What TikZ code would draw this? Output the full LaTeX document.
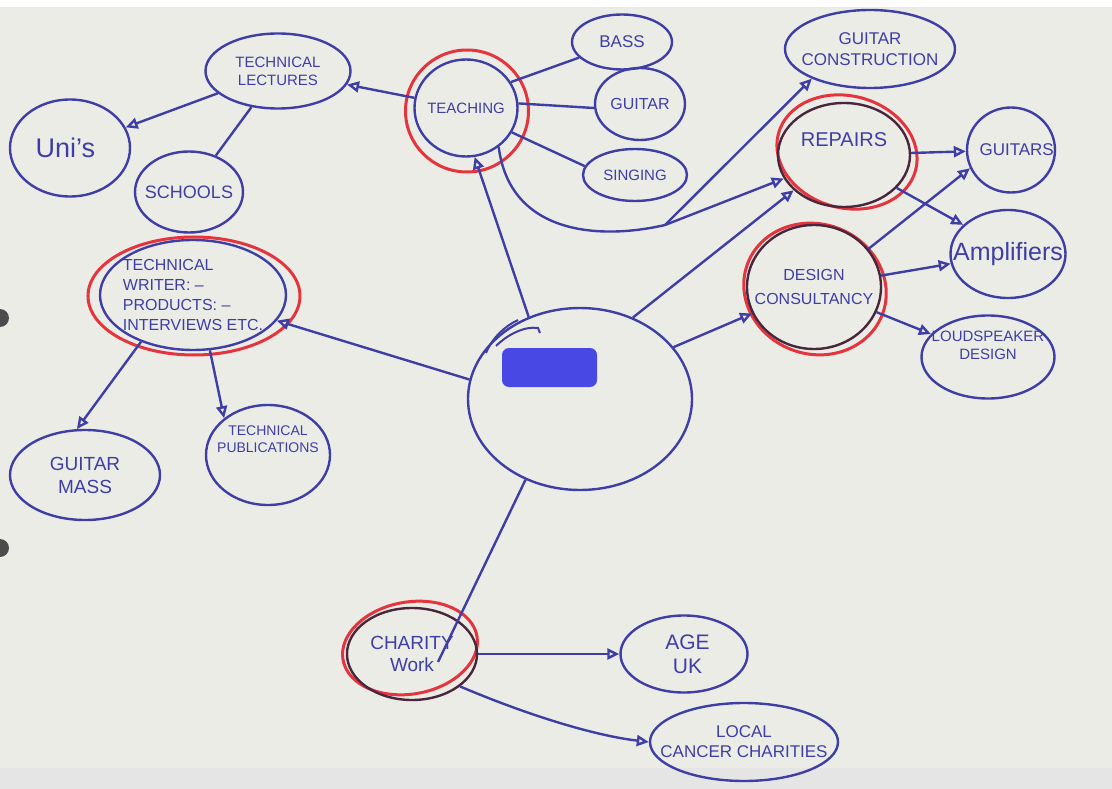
\documentclass[tikz,border=0pt]{standalone}
\usepackage{fontspec}
\setmainfont{Liberation Sans}
\usetikzlibrary{shapes.geometric,arrows.meta,calc}
\definecolor{ink}{RGB}{62,62,165}
\definecolor{redink}{RGB}{228,52,62}
\definecolor{darkink}{RGB}{72,38,60}
\definecolor{paper}{RGB}{236,236,231}
\definecolor{blob}{RGB}{72,72,228}
\begin{document}
\begin{tikzpicture}[x=1pt,y=-1pt,
  bub/.style={ellipse, draw=ink, line width=2.4pt, inner sep=-45pt, text=ink, align=center},
  ringp/.style={draw=redink, line width=3pt},
  con/.style={draw=ink, line width=2.4pt},
  arr/.style={con, -{Triangle[open, length=12pt, width=11pt]}}]
\useasboundingbox (0,0) rectangle (1112,789);
\fill[paper] (0,0) rectangle (1112,789);
\fill[white] (0,0) rectangle (1112,7);
\fill[black!10] (0,768) rectangle (1112,789);
\fill[gray!60!black] (0,318) circle (9);
\fill[gray!60!black] (0,548) circle (9);

% ---------- red rings ----------
\draw[ringp] (467,111) ellipse [x radius=61.5, y radius=61];
\draw[ringp, rotate around={-15:(847,152)}] (847,152) ellipse [x radius=71, y radius=56];
\draw[ringp, rotate around={-20:(815,289)}] (815,289) ellipse [x radius=72, y radius=65];
\draw[ringp] (194,296) ellipse [x radius=106, y radius=59];
\draw[ringp, rotate around={10:(410,648)}] (410,648) ellipse [x radius=68, y radius=46];

% ---------- nodes ----------
\node[bub, minimum width=145pt, minimum height=75pt, font=\fontsize{15}{18}\selectfont] (tl) at (278,71) {TECHNICAL\\LECTURES};
\node[bub, minimum width=120pt, minimum height=97pt, font=\fontsize{27}{30}\selectfont] (unis) at (70,148) {Uni's\,\,};
\node[bub, minimum width=108pt, minimum height=81pt, font=\fontsize{18}{20}\selectfont] (sch) at (189,192) {SCHOOLS};
\node[bub, minimum width=103pt, minimum height=97pt, font=\fontsize{15}{17}\selectfont] (teach) at (466,108) {TEACHING};
\node[bub, minimum width=100pt, minimum height=55pt, font=\fontsize{17}{19}\selectfont] (bass) at (622,42) {BASS};
\node[bub, minimum width=90pt, minimum height=72pt, font=\fontsize{16}{18}\selectfont] (guit) at (640,104) {GUITAR};
\node[bub, minimum width=104pt, minimum height=52pt, font=\fontsize{15}{17}\selectfont] (sing) at (635,175) {SINGING};
\node[bub, minimum width=170pt, minimum height=78pt, font=\fontsize{17}{21}\selectfont] (gc) at (870,49) {GUITAR\\CONSTRUCTION};
\node[bub, draw=darkink, minimum width=132pt, minimum height=104pt, font=\fontsize{20}{22}\selectfont] (rep) at (844,155) {REPAIRS\\[8pt]};
\node[bub, minimum width=88pt, minimum height=85pt, font=\fontsize{17}{19}\selectfont] (guitars) at (1011,150) {\,\,\,\,GUITARS};
\node[bub, draw=darkink, minimum width=134pt, minimum height=124pt, font=\fontsize{16}{24}\selectfont] (design) at (814,287) {DESIGN\\CONSULTANCY};
\node[bub, minimum width=115pt, minimum height=88pt, font=\fontsize{25}{27}\selectfont] (amp) at (1008,254) {Amplifiers};
\node[bub, minimum width=133pt, minimum height=83pt, font=\fontsize{15}{18}\selectfont] (loud) at (988,357) {LOUDSPEAKER\\DESIGN\\[6pt]};
\node[bub, minimum width=186pt, minimum height=110pt, font=\fontsize{16}{20}\selectfont, align=left] (tw) at (193,295) {TECHNICAL\\WRITER: --\\PRODUCTS: --\\INTERVIEWS ETC.};
\node[bub, minimum width=150pt, minimum height=90pt, font=\fontsize{19}{23}\selectfont] (gm) at (85,475) {GUITAR\\MASS};
\node[bub, minimum width=124pt, minimum height=100pt, font=\fontsize{14}{17}\selectfont] (pubs) at (268,455) {TECHNICAL\\PUBLICATIONS\\[14pt]};
\node[bub, minimum width=224pt, minimum height=182pt] (center) at (580,399) {};
\node[bub, draw=darkink, minimum width=130pt, minimum height=92pt, font=\fontsize{19}{22}\selectfont] (charity) at (412,654) {CHARITY\\Work};
\node[bub, minimum width=127pt, minimum height=77pt, font=\fontsize{21}{24}\selectfont] (age) at (684,654) {\,\,AGE\\\,\,UK};
\node[bub, minimum width=188pt, minimum height=78pt, font=\fontsize{17}{20}\selectfont] (cancer) at (744,742) {LOCAL\\CANCER CHARITIES};

% blanked-out name and pen strokes in the centre
\fill[blob, rounded corners=7pt] (502,348) rectangle (597,387);
\draw[con, line width=2pt] (486,353) .. controls (492,338) and (505,326) .. (518,320);
\draw[con, line width=2pt] (496,346) .. controls (508,334) and (525,326) .. (538,328) -- (540,333);

% ---------- connectors ----------
\draw[arr] (teach) -- (tl);
\draw[arr] (tl) -- (unis);
\draw[con] (tl) -- (sch);
\draw[con] (teach.30) -- (bass.200);
\draw[con] (teach.5) -- (guit.185);
\draw[con] (teach.-28) -- (sing.170);
\draw[arr] (center.122) -- (teach.-80);
\coordinate (split) at (665,225);
\draw[con] (teach.-50) .. controls (510,235) and (600,240) .. (split);
\draw[arr] (split) -- (gc.207);
\draw[arr] (split) -- (rep);
\draw[arr] (center.57) -- (rep.215);
\draw[arr] (center.29) -- (design);
\draw[arr] (rep) -- (guitars);
\draw[arr] (rep.-32) -- (amp.147);
\draw[arr] (design.35) -- (guitars.204);
\draw[arr] (design) -- (amp);
\draw[arr] (design) -- (loud);
\draw[arr] (center.170) -- (tw);
\draw[arr] (tw.-138) -- (gm.100);
\draw[arr] (tw.-73) -- (pubs.140);
\draw[con] (center.-124) -- ($(charity.center)+(26,8)$);
\draw[arr] (charity) -- (age);
\draw[arr] (charity.-34) .. controls (520,712) and (590,735) .. (cancer.west);
\end{tikzpicture}
\end{document}
